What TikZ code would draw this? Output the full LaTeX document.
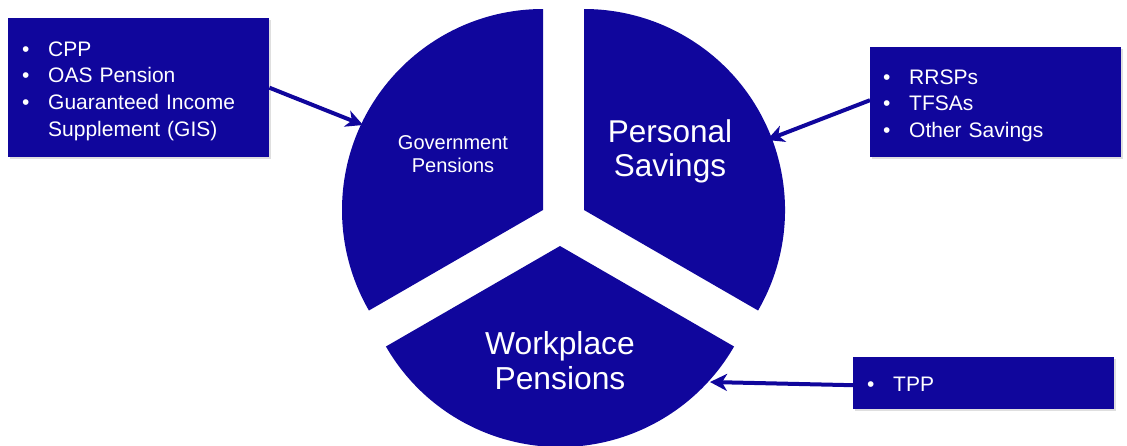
\documentclass[tikz,border=0pt]{standalone}
\usepackage{fontspec}
\setmainfont{Liberation Sans}
\usetikzlibrary{arrows.meta,shadows}
\definecolor{pieblue}{HTML}{10069C}
\tikzset{
  pie/.style={fill=pieblue},
  infobox/.style={fill=pieblue, text=white, anchor=north west, align=left,
    inner ysep=0pt, font=\fontsize{21}{26.7}\selectfont,
    drop shadow={opacity=0.25, shadow xshift=1.5pt, shadow yshift=-1.5pt}},
  plabel/.style={text=white, align=center, inner sep=0pt},
  conn/.style={draw=pieblue, line width=4pt, -{Stealth[length=17pt,width=17pt,inset=5pt]}}
}
\newcommand{\bul}{\makebox[26pt][l]{\textbullet}}
\newcommand{\lowstrut}{\rule{0pt}{21.5pt}}
\begin{document}
\begin{tikzpicture}[x=1pt,y=1pt]
\useasboundingbox (0,0) rectangle (1127,-445);
% sectors
\fill[pie] (543,-210) -- ++(90:201pt) arc[start angle=90, end angle=210, radius=201pt] -- cycle;
\fill[pie] (584,-210) -- ++(-30:201pt) arc[start angle=-30, end angle=90, radius=201pt] -- cycle;
\fill[pie] (560,-246) -- ++(210:201pt) arc[start angle=210, end angle=330, radius=201pt] -- cycle;
% sector labels
\node[plabel, font=\fontsize{20}{23}\selectfont] (gov) at (453,-154) {Government\\Pensions};
\node[plabel, font=\fontsize{31.5}{34}\selectfont] (pers) at (670,-151) {Personal\\Savings};
\node[plabel, font=\fontsize{31.8}{35}\selectfont] (work) at (560,-361) {Workplace\\Pensions};
% boxes
\node[infobox, inner xsep=14pt, text width=233pt, minimum width=261pt, minimum height=139pt] (L) at (8,-18)
  {\lowstrut\bul CPP\\ \bul OAS Pension\\ \bul Guaranteed Income\\ \hspace*{26pt}Supplement (GIS)};
\node[infobox, inner xsep=13pt, text width=225pt, minimum width=251pt, minimum height=110pt] (R) at (870,-47)
  {\lowstrut\bul RRSPs\\ \bul TFSAs\\ \bul Other Savings};
\node[infobox, inner xsep=14pt, text width=233pt, minimum width=261pt, minimum height=52pt] (T) at (853,-357)
  {\rule{0pt}{17pt}\bul TPP};
% arrow targets
\coordinate (gtip) at (363,-125);
\coordinate (ptip) at (767,-140);
\coordinate (wtip) at (710,-382);
\draw[conn] (L.east) -- (gtip);
\draw[conn] ([yshift=2pt]R.west) -- (ptip);
\draw[conn] ([yshift=-2pt]T.west) -- (wtip);
\end{tikzpicture}
\end{document}
